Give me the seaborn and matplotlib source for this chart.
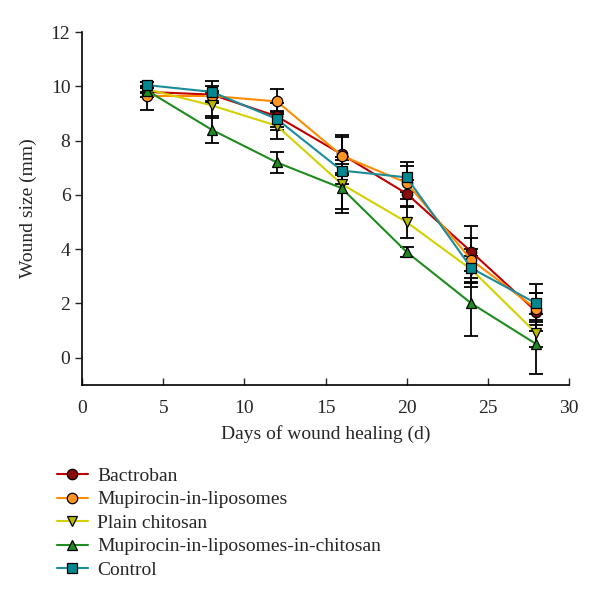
import matplotlib
matplotlib.use('Agg')
import matplotlib.pyplot as plt
import seaborn as sns
import numpy as np

# Data
days = [4, 8, 12, 16, 20, 24, 28]

bactroban = [9.8, 9.7, 8.9, 7.5, 6.05, 3.9, 1.7]
bactroban_err = [0.2, 0.3, 0.5, 0.7, 0.5, 0.95, 0.7]

mupirocin_lipo = [9.65, 9.65, 9.45, 7.45, 6.45, 3.6, 1.8]
mupirocin_lipo_err = [0.5, 0.2, 0.45, 0.7, 0.6, 0.8, 0.6]

plain_chitosan = [9.9, 9.3, 8.55, 6.4, 5.0, 3.25, 0.9]
plain_chitosan_err = [0.1, 0.45, 0.5, 0.9, 0.6, 0.5, 0.5]

mupirocin_lipo_chitosan = [9.85, 8.4, 7.2, 6.25, 3.9, 2.0, 0.5]
mupirocin_lipo_chitosan_err = [0.1, 0.5, 0.4, 0.9, 0.2, 1.2, 1.1]

control = [10.05, 9.8, 8.8, 6.9, 6.65, 3.3, 2.0]
control_err = [0.1, 0.4, 0.3, 0.5, 0.55, 0.7, 0.7]

labels = ['Bactroban', 'Mupirocin-in-liposomes', 'Plain chitosan',
          'Mupirocin-in-liposomes-in-chitosan', 'Control']

sns.set_style('white')
plt.rcParams['font.family'] = ['Liberation Serif', 'DejaVu Serif']

fig = plt.figure(figsize=(6, 6.08), dpi=100)
ax = fig.add_axes([0.137, 0.367, 0.811, 0.58])

series = [
    (bactroban, bactroban_err, '#C00000', '#8B0A0A', 'o'),
    (mupirocin_lipo, mupirocin_lipo_err, '#FF8C00', '#FF9420', 'o'),
    (plain_chitosan, plain_chitosan_err, '#D4D000', '#B8B800', 'v'),
    (mupirocin_lipo_chitosan, mupirocin_lipo_chitosan_err, '#1E8C1E', '#1E8C1E', '^'),
    (control, control_err, '#1A8C9A', '#00878F', 's'),
]

for (vals, err, lc, mc, mk), lab in zip(series, labels):
    ax.errorbar(days, vals, yerr=err, fmt='none', ecolor='black',
                elinewidth=1.3, capsize=5, capthick=1.3, zorder=2)
    sns.lineplot(x=days, y=vals, ax=ax, color=lc, linewidth=1.5,
                 marker=mk, markersize=7.5, markerfacecolor=mc,
                 markeredgecolor='black', markeredgewidth=0.9,
                 label=lab, zorder=3)

ax.set_xlim(0, 30)
ax.set_ylim(-1, 12)
ax.set_xticks(np.arange(0, 31, 5))
ax.set_yticks(np.arange(0, 13, 2))
ax.set_xlabel('Days of wound healing (d)', fontsize=14, labelpad=6)
ax.set_ylabel('Wound size (mm)', fontsize=14, labelpad=10)
ax.tick_params(axis='x', direction='in', length=5, width=1, labelsize=14, pad=11, bottom=True)
ax.tick_params(axis='y', direction='out', length=5, width=1, labelsize=14, left=True)

for s in ['top', 'right']:
    ax.spines[s].set_visible(False)
for s in ['left', 'bottom']:
    ax.spines[s].set_color('black')
    ax.spines[s].set_linewidth(1.2)

ax.legend(loc='upper left', bbox_to_anchor=(0.065, 0.26), bbox_transform=fig.transFigure,
          frameon=False, fontsize=14, handlelength=1.6, labelspacing=0.3,
          handletextpad=0.5)

fig.savefig('out.png', dpi=100)
